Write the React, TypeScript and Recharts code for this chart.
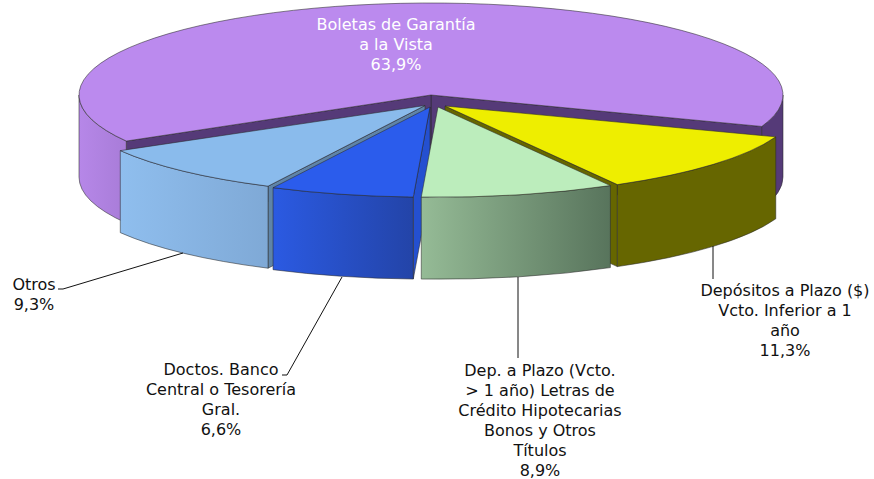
import { Pie, PieChart } from "recharts";

const categories = [
  "Boletas de Garantía a la Vista",
  "Otros",
  "Doctos. Banco Central o Tesorería Gral.",
  "Dep. a Plazo (Vcto. > 1 año) Letras de Crédito Hipotecarias Bonos y Otros Títulos",
  "Depósitos a Plazo ($) Vcto. Inferior a 1 año",
];
const values = [63.9, 9.3, 6.6, 8.9, 11.3];
const labelLines = [
  ["Boletas de Garantía", "a la Vista"],
  ["Otros"],
  ["Doctos. Banco", "Central o Tesorería", "Gral."],
  ["Dep. a Plazo (Vcto.", "> 1 año) Letras de", "Crédito Hipotecarias", "Bonos y Otros", "Títulos"],
  ["Depósitos a Plazo ($)", "Vcto. Inferior a 1", "año"],
];

// estilo: colores, despiece y posición de cada etiqueta
const topColors = ["#BB8AEE", "#8ABBEC", "#2B5CEC", "#BCEDBC", "#EEEE00"];
const wallColors = [
  ["#B687E8", "#A87CD8"],
  ["#8FBEEE", "#7FA9D6"],
  ["#2B5AE2", "#2344A8"],
  ["#95BB96", "#58745C"],
  ["#666600", "#666600"],
];
const cutColors = ["#553A78", "#5F84A8", "#2450D0", "#5A7A5A", "#666600"];
const explode = [
  [0, 0],
  [-6, 10.5],
  [-1, 12],
  [7, 12],
  [14, 11],
];
const labelAnchors = [
  { x: 396, y: 30, fill: "#ffffff" },
  { x: 34, y: 290, fill: "#111111" },
  { x: 221, y: 375, fill: "#111111" },
  { x: 540, y: 376, fill: "#111111" },
  { x: 785, y: 296, fill: "#111111" },
];
const leaderLines = [
  "",
  "M58 289 L63 289 L183 253",
  "M282 375 L287 375 L342 277",
  "M518 277 L518 358",
  "M713 246 L713 279",
];

const rows = categories.map((name, i) => ({ name, value: values[i], slice: i }));

const TILT = 92 / 352;
const DEPTH = 82;
const SQUASH = 0.98;
const EDGE = { stroke: "#2a2a2a", strokeOpacity: 0.55, strokeWidth: 1 };

function geometry(props: any) {
  const i: number = props.payload?.slice ?? props.slice;
  const rx = props.outerRadius;
  const ry = props.outerRadius * TILT * (i === 0 ? 1 : SQUASH);
  const ox = props.cx + explode[i][0];
  const oy = props.cy + explode[i][1];
  const pt = (deg: number) => {
    const r = (deg * Math.PI) / 180;
    return [ox + rx * Math.cos(r), oy - ry * Math.sin(r)];
  };
  return { i, rx, ry, ox, oy, pt };
}

function CutWalls(props: any) {
  const { i, ox, oy, pt } = geometry(props);
  const { startAngle, endAngle } = props;
  const cuts: number[] = [];
  if (Math.cos((startAngle * Math.PI) / 180) > 0) cuts.push(startAngle);
  if (Math.cos((endAngle * Math.PI) / 180) < 0) cuts.push(endAngle);
  return (
    <g>
      {cuts.map((deg) => {
        const [x, y] = pt(deg);
        const d = `M${ox} ${oy} L${x} ${y} L${x} ${y + DEPTH} L${ox} ${oy + DEPTH} Z`;
        return <path key={deg} d={d} fill={cutColors[i]} {...EDGE} />;
      })}
    </g>
  );
}

function SliceFace(props: any) {
  const { i, rx, ry, ox, oy, pt } = geometry(props);
  const { startAngle, endAngle } = props;
  const [sx, sy] = pt(startAngle);
  const [ex, ey] = pt(endAngle);
  const large = endAngle - startAngle > 180 ? 1 : 0;
  const top = `M${ox} ${oy} L${sx} ${sy} A${rx} ${ry} 0 ${large} 0 ${ex} ${ey} Z`;

  // solo se ve la pared exterior de la mitad inferior de la elipse
  const walls: number[][] = [];
  for (const base of [-180, 180]) {
    const from = Math.max(startAngle, base);
    const to = Math.min(endAngle, base + 180);
    if (to > from) walls.push([from, to]);
  }
  const gradient = `wall-${i}`;

  return (
    <g>
      <defs>
        <linearGradient id={gradient} x1="0" y1="0" x2="1" y2="0">
          <stop offset="0%" stopColor={wallColors[i][0]} />
          <stop offset="100%" stopColor={wallColors[i][1]} />
        </linearGradient>
      </defs>
      {walls.map(([from, to]) => {
        const [ax, ay] = pt(from);
        const [bx, by] = pt(to);
        const d =
          `M${ax} ${ay} A${rx} ${ry} 0 0 0 ${bx} ${by} L${bx} ${by + DEPTH} ` +
          `A${rx} ${ry} 0 0 1 ${ax} ${ay + DEPTH} Z`;
        const fill = i === 0 && from < 0 ? cutColors[0] : `url(#${gradient})`;
        return <path key={from} d={d} fill={fill} {...EDGE} />;
      })}
      <path d={top} fill={topColors[i]} {...EDGE} />
    </g>
  );
}

function SliceLabel(props: any) {
  const i: number = props.payload?.slice ?? props.slice;
  const anchor = labelAnchors[i];
  const lines = [...labelLines[i], `${values[i].toFixed(1).replace(".", ",")}%`];
  return (
    <g>
      {leaderLines[i] && (
        <path d={leaderLines[i]} fill="none" stroke="#111111" strokeWidth={1} />
      )}
      <text
        x={anchor.x}
        y={anchor.y}
        textAnchor="middle"
        fill={anchor.fill}
        fontFamily="'DejaVu Sans', sans-serif"
        fontSize={16}
      >
        {lines.map((line, n) => (
          <tspan key={n} x={anchor.x} dy={n === 0 ? 0 : 20}>
            {line}
          </tspan>
        ))}
      </text>
    </g>
  );
}

export default function App() {
  const pie = {
    data: rows,
    dataKey: "value",
    nameKey: "name",
    cx: 431,
    cy: 95,
    outerRadius: 352,
    startAngle: -20,
    endAngle: 340,
    isAnimationActive: false,
  };
  return (
    <div style={{ position: "absolute", left: 0, top: 0, background: "#ffffff" }}>
      <PieChart width={874} height={479} margin={{ top: 0, right: 0, bottom: 0, left: 0 }}>
        <Pie {...pie} shape={CutWalls} label={false} labelLine={false} />
        <Pie {...pie} shape={SliceFace} label={SliceLabel} labelLine={false} />
      </PieChart>
    </div>
  );
}
